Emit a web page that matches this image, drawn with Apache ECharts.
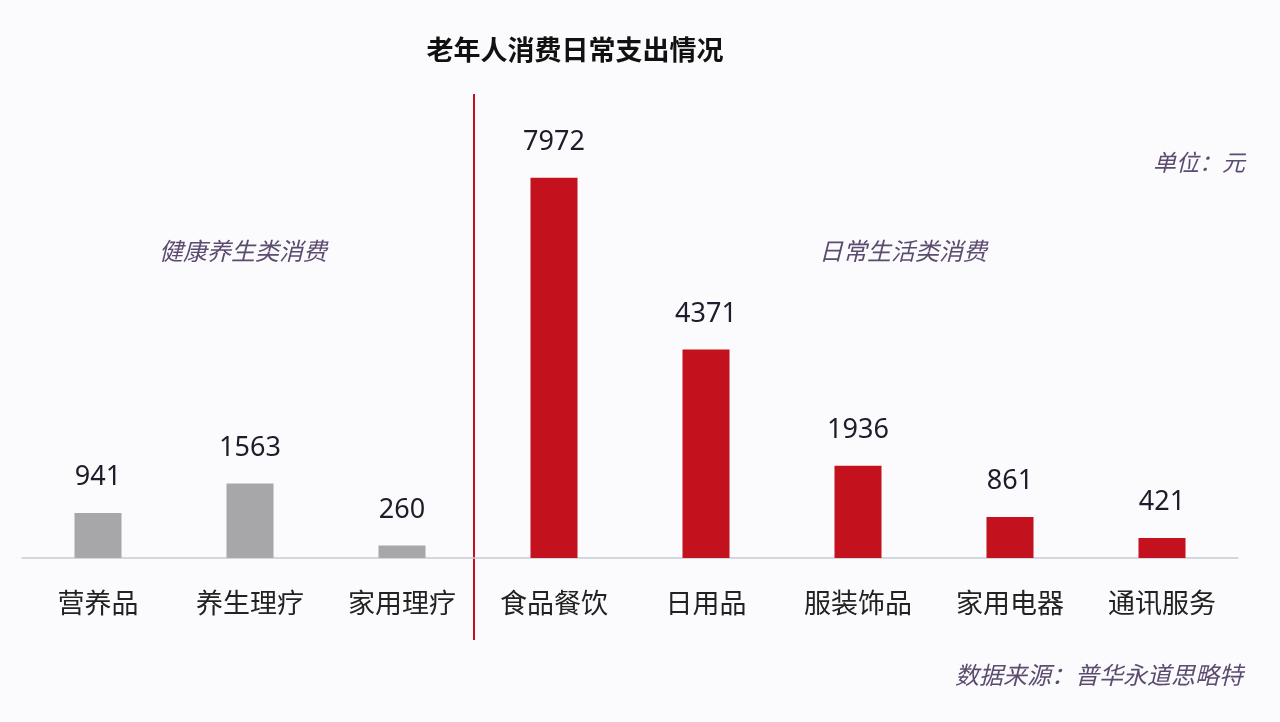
<!DOCTYPE html>
<html><head><meta charset="utf-8">
<script src="https://cdn.jsdelivr.net/npm/echarts@6/dist/echarts.min.js"></script>
<style>html,body{margin:0;padding:0;background:#fbfbfd;}#c{width:1280px;height:722px;}</style>
</head><body><div id="c"></div>
<script>
const categories = ['营养品','养生理疗','家用理疗','食品餐饮','日用品','服装饰品','家用电器','通讯服务'];
const values = [941, 1563, 260, 7972, 4371, 1936, 861, 421];
const groupOf = ['health','health','health','daily','daily','daily','daily','daily'];
const groupColors = {health:'#a7a7aa', daily:'#c3111d'};
const italicFont = '"Noto Sans CJK SC", sans-serif';

const chart = echarts.init(document.getElementById('c'));
chart.setOption({
  backgroundColor:'#fbfbfd',
  animation:false,
  title:{text:'老年人消费日常支出情况', left:570, top:31, textAlign:'center',
    textStyle:{fontSize:27, fontWeight:'bold', color:'#111', fontFamily:'"Noto Sans CJK SC", sans-serif'}},
  grid:{left:22, right:42, top:100, bottom:164},
  xAxis:{type:'category', data:categories,
    axisLine:{lineStyle:{color:'#c9ccd3', width:1.5}}, axisTick:{show:false},
    axisLabel:{margin:31, fontSize:27, color:'#222', fontFamily:'"Noto Sans CJK SC", sans-serif'}},
  yAxis:{type:'value', min:0, max:9600, show:false, splitLine:{show:false}},
  series:[{type:'bar', barWidth:47,
    data: values.map((v,i)=>({value:v, itemStyle:{color:groupColors[groupOf[i]]}})),
    label:{show:true, position:'top', distance:22, fontSize:27, color:'#1c1c2a', fontFamily:'"Noto Sans", sans-serif'}
  }],
  graphic:[
    {type:'line', shape:{x1:474, y1:94, x2:474, y2:640}, style:{stroke:'#c3111d', lineWidth:2}},
    {type:'text', x:243, y:251, style:{text:'健康养生类消费', font:'italic 24px '+italicFont, fill:'#5b4b6f', textAlign:'center', textVerticalAlign:'middle'}},
    {type:'text', x:903, y:251, style:{text:'日常生活类消费', font:'italic 24px '+italicFont, fill:'#5b4b6f', textAlign:'center', textVerticalAlign:'middle'}},
    {type:'text', x:1245, y:162, style:{text:'单位：元', font:'italic 23px '+italicFont, fill:'#5b4b6f', textAlign:'right', textVerticalAlign:'middle'}},
    {type:'text', x:1243, y:675, style:{text:'数据来源：普华永道思略特', font:'italic 24px '+italicFont, fill:'#5b4b6f', textAlign:'right', textVerticalAlign:'middle'}}
  ]
});
</script></body></html>
